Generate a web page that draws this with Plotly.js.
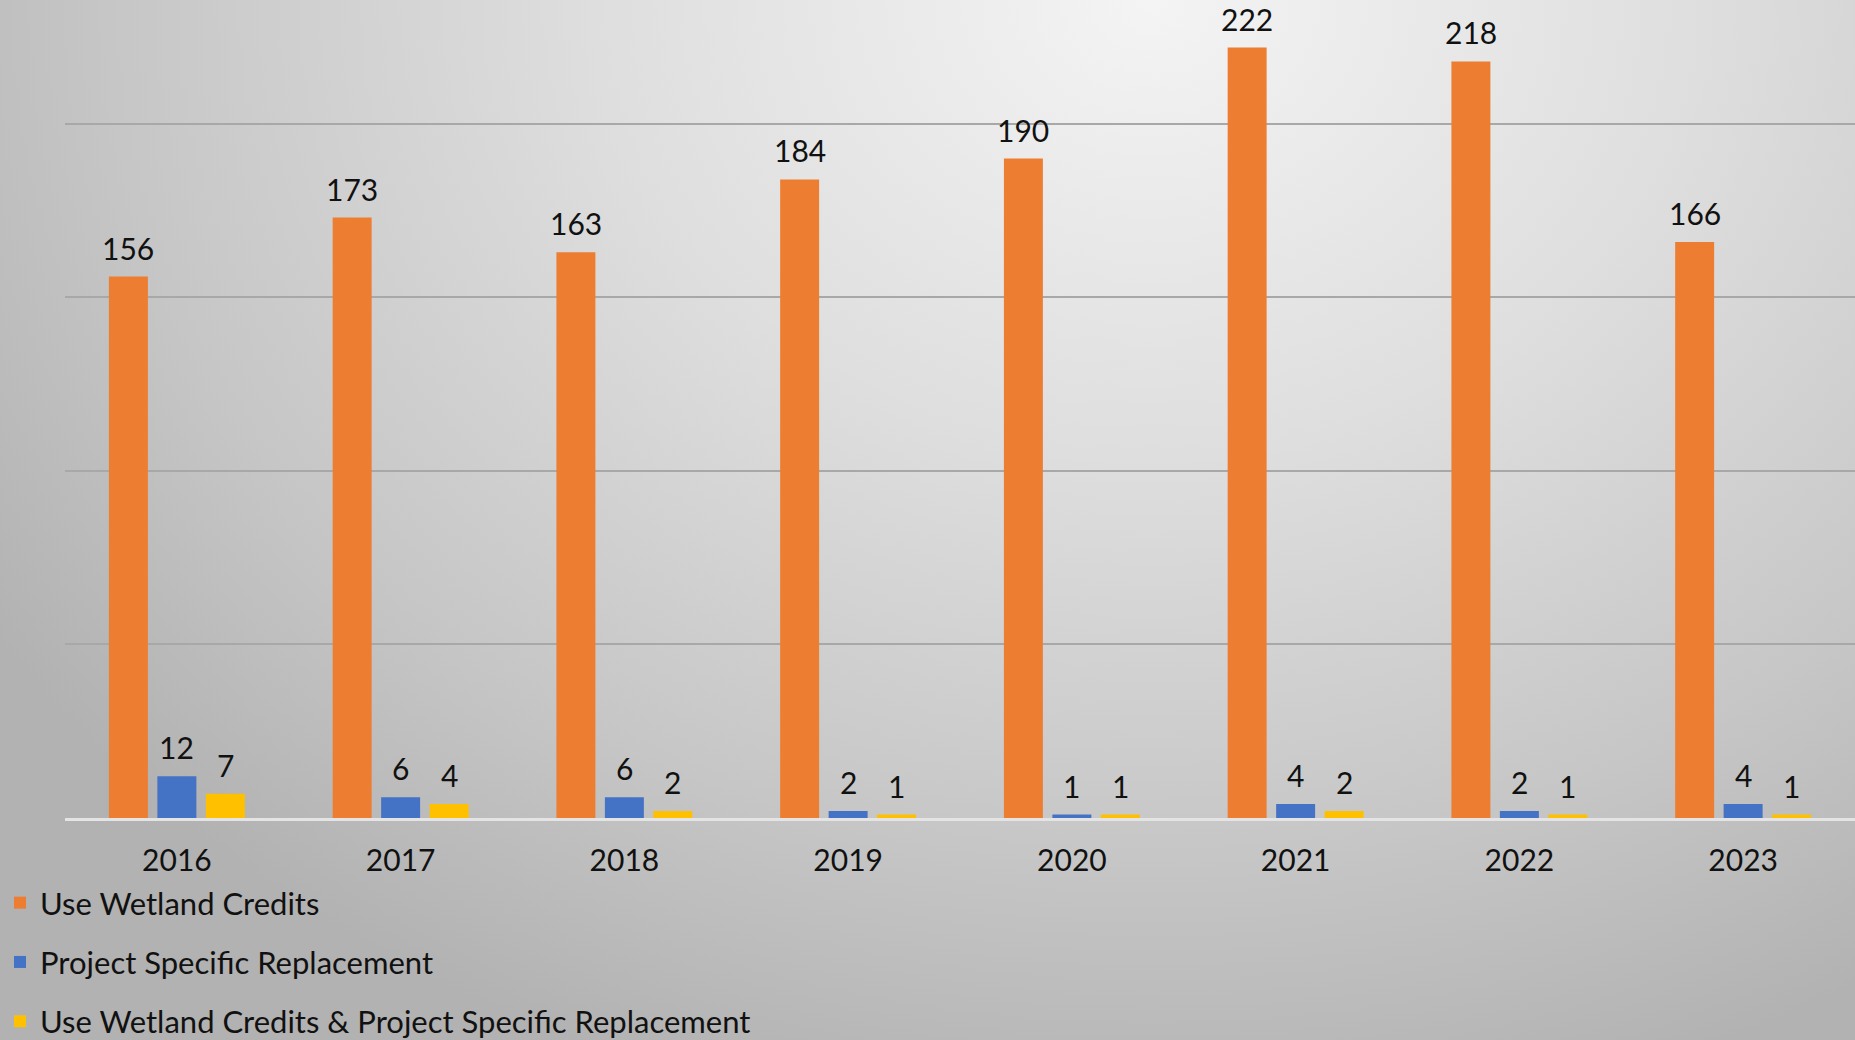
<!DOCTYPE html>
<html>
<head>
<meta charset="utf-8">
<script src="https://cdn.plot.ly/plotly-3.0.1.min.js"></script>
<style>
  html, body { margin: 0; padding: 0; }
  body {
    width: 1855px; height: 1040px; overflow: hidden;
    background: radial-gradient(ellipse 75% 110% at 62% 0%, #f4f4f4 0%, #dedede 40%, #c6c6c6 75%, #b2b2b2 100%);
  }
  #chart { width: 1855px; height: 1040px; }
</style>
</head>
<body>
<div id="chart"></div>
<script>
const years = ['2016', '2017', '2018', '2019', '2020', '2021', '2022', '2023'];
const useWetlandCredits = [156, 173, 163, 184, 190, 222, 218, 166];
const projectSpecificReplacement = [12, 6, 6, 2, 1, 4, 2, 4];
const bothMethods = [7, 4, 2, 1, 1, 2, 1, 1];
const seriesNames = [
  'Use Wetland Credits',
  'Project Specific Replacement',
  'Use Wetland Credits & Project Specific Replacement'
];
const seriesColors = ['#ED7D31', '#4472C4', '#FFC000'];

const FONT = 'Lato, Calibri, "Noto Sans", sans-serif';
const seriesValues = [useWetlandCredits, projectSpecificReplacement, bothMethods];

const W = 1855, H = 1040;
const M = { l: 65, r: 0, t: 0, b: 222 };
const BARGAP = 0.35;
const plotW = W - M.l - M.r;
const catW = plotW / years.length;
const slotW = catW * (1 - BARGAP) / seriesValues.length;

const traces = seriesValues.map((vals, i) => ({
  type: 'bar',
  name: seriesNames[i],
  legendgroup: 'g' + i,
  x: years,
  y: vals,
  marker: { color: seriesColors[i] },
  cliponaxis: false,
  hoverinfo: 'x+y+name'
}));

const annotations = [];
seriesValues.forEach((vals, i) => {
  vals.forEach((v, j) => {
    annotations.push({
      x: j,               // category index on the category axis
      y: v,
      xref: 'x',
      yref: 'y',
      text: String(v),
      showarrow: false,
      xanchor: 'center',
      yanchor: 'bottom',
      xshift: (i - 1) * slotW,
      yshift: 9,
      font: { family: FONT, size: 30, color: '#111111' }
    });
  });
});

const layout = {
  width: W,
  height: H,
  paper_bgcolor: 'rgba(0,0,0,0)',
  plot_bgcolor: 'rgba(0,0,0,0)',
  margin: { l: M.l, r: M.r, t: M.t, b: M.b, pad: 0, autoexpand: false },
  barmode: 'group',
  bargap: BARGAP,
  bargroupgap: 0.196,
  font: { family: FONT, size: 30, color: '#111111' },
  annotations: annotations,
  xaxis: {
    type: 'category',
    categoryorder: 'array',
    categoryarray: years,
    range: [-0.5, years.length - 0.5],
    autorange: false,
    showgrid: false,
    showline: true,
    linecolor: '#e4e4e4',
    linewidth: 3,
    ticks: '',
    ticklabelstandoff: 14,
    tickfont: { family: FONT, size: 30, color: '#111111' }
  },
  yaxis: {
    range: [0, 235.7],
    autorange: false,
    dtick: 50,
    showgrid: true,
    gridcolor: '#a8a8a8',
    gridwidth: 2,
    zeroline: false,
    showticklabels: false,
    ticks: ''
  },
  showlegend: true,
  legend: {
    orientation: 'v',
    x: -0.0363,
    xanchor: 'left',
    y: -0.0709,
    yanchor: 'top',
    traceorder: 'grouped',
    tracegroupgap: 16,
    bgcolor: 'rgba(0,0,0,0)',
    font: { family: FONT, size: 31, color: '#111111' },
    itemwidth: 30
  }
};

Plotly.newPlot('chart', traces, layout, { displayModeBar: false, staticPlot: true });
</script>
</body>
</html>
